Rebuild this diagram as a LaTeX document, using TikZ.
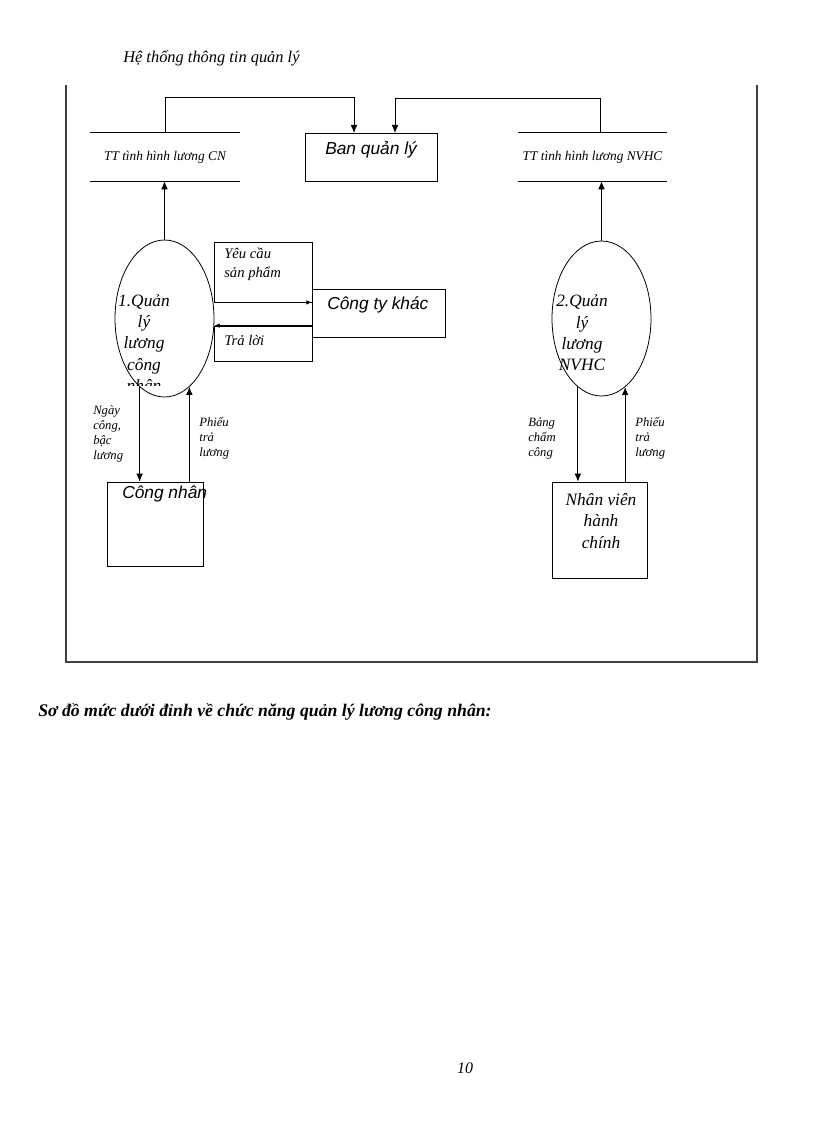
\documentclass[tikz,border=0pt]{standalone}
\usepackage{fontspec}
\setmainfont{Liberation Serif}
\newfontfamily\sansf{Liberation Sans}
\usetikzlibrary{shapes.geometric,positioning,arrows.meta}

\begin{document}
\begin{tikzpicture}[x=0.75pt,y=-0.75pt,>={Latex[length=6pt,width=5pt]}]
	\tikzstyle{every node}=[font=\itshape]
	\tikzstyle{box}=[draw,line width=0.6pt,rectangle,inner sep=0pt]
	\tikzstyle{store}=[rectangle,inner sep=0pt,minimum height=36pt]
	\tikzstyle{proc}=[draw,line width=0.6pt,ellipse,inner sep=0pt,minimum width=74.25pt]
	\tikzstyle{big}=[font=\fontsize{13}{16}\selectfont\itshape,align=center,inner sep=0pt]
	\tikzstyle{small}=[font=\fontsize{9.5}{11.25}\selectfont\itshape,align=left,inner sep=0pt,anchor=west]
	\tikzstyle{every edge}=[draw,line width=0.6pt,->]
	\tikzstyle{tiny}=[draw,line width=0.6pt,-{Latex[length=4pt,width=3.5pt]}]

	\useasboundingbox (0,0) rectangle (816,1123);

	% heading and frame
	\node[font=\fontsize{12.3}{14}\selectfont\itshape,anchor=west,inner sep=0pt] (head) at (123,58) {Hệ thống thông tin quản lý};
	\draw[line width=0.8pt,black!75] (66,85) |- (757,662) -- (757,85);

	% boxes
	\node[box,minimum width=99pt,minimum height=36pt] (B) at (371,157) {};
	\node[font=\fontsize{13}{15}\selectfont\sansf\itshape,inner sep=0pt,anchor=west] (Bt) at (325,150) {Ban quản lý};
	\node[box,minimum width=99.75pt,minimum height=36pt] (C) at (378.5,313) {};
	\node[font=\fontsize{13}{15}\selectfont\sansf\itshape,inner sep=0pt,anchor=west] (Ct) at (327,305) {Công ty khác};
	\node[box,minimum width=72pt,minimum height=63pt] (W) at (155,524) {};
	\node[font=\fontsize{13}{15}\selectfont\sansf\itshape,inner sep=0pt,anchor=west] (Wt) at (122,494) {Công nhân};
	\node[box,minimum width=71.25pt,minimum height=72pt] (NV) at (599.5,530) {};
	\node[big] (NVt) at (601,521) {Nhân viên\\hành\\chính};

	% stores
	\node[store,minimum width=112.5pt,font=\fontsize{10}{11}\selectfont\itshape] (S1) at (165,157) {TT tình hình lương CN};
	\node[store,minimum width=111.75pt,font=\fontsize{10}{11}\selectfont\itshape] (S2) at (592.5,157) {TT tình hình lương NVHC};
	\draw[line width=0.6pt] (S1.north west) -- (S1.north east) (S1.south west) -- (S1.south east);
	\draw[line width=0.6pt] (S2.north west) -- (S2.north east) (S2.south west) -- (S2.south east);

	% processes
	\node[proc,minimum height=117.75pt] (P1) at (164.5,318.5) {};
	\begin{scope}
		\clip (100,240) rectangle (230,385);
		\node[big] (P1t) at (144,343) {1.Quản\\lý\\lương\\công\\nhân};
	\end{scope}
	\node[proc,minimum height=116.25pt] (P2) at (601.5,318.5) {};
	\node[big] (P2t) at (582,333) {2.Quản\\lý\\lương\\NVHC};

	% flow labels to Công ty khác
	\node[box,minimum width=73.5pt,minimum height=45pt] (Y) at (263,272) {};
	\node[small,font=\fontsize{11}{14.25}\selectfont\itshape] (Yt) at (224,264.5) {Yêu cầu\\sản phẩm};
	\node[box,minimum width=73.5pt,minimum height=26.25pt] (T) at (263,343.5) {};
	\node[small,font=\fontsize{11}{14.25}\selectfont\itshape] (Tt) at (224,340) {Trả lời};

	% connectors
	\coordinate (b1) at (354,133);
	\coordinate (b2) at (395,133);
	\coordinate (s2) at (600,133);
	\draw[line width=0.6pt,->] (S1.north) -- ++(0,-35) -| (b1);
	\draw[line width=0.6pt,->] (s2) -- ++(0,-35) -| (b2);
	\draw (P1.north) edge (P1.north |- S1.south);
	\draw (P2.north) edge (P2.north |- S2.south);
	\draw[tiny] (P1.east |- Y.south) -- (C.west |- Y.south);
	\draw[tiny] (C.west |- T.north) -- (P1.east |- T.north);
	\draw (P1.250) edge (P1.250 |- W.north);
	\draw (W.north -| P1.290) edge (P1.290);
	\draw (P2.251) edge (P2.251 |- NV.north);
	\draw (NV.north -| P2.289) edge (P2.289);

	% labels on the vertical flows
	\node[small] (L1) at (93,434) {Ngày\\công,\\bậc\\lương};
	\node[small] (L2) at (199,438.5) {Phiếu\\trả\\lương};
	\node[small] (L3) at (528,438.5) {Bảng\\chấm\\công};
	\node[small] (L4) at (635,438.5) {Phiếu\\trả\\lương};

	% caption and page number
	\node[font=\fontsize{13.3}{15}\selectfont\bfseries\itshape,anchor=west,inner sep=0pt] (cap) at (38,712) {Sơ đồ mức dưới đỉnh về chức năng quản lý lương công nhân:};
	\node[font=\fontsize{12}{14}\selectfont\itshape,inner sep=0pt] (pg) at (465,1068) {10};
\end{tikzpicture}
\end{document}
